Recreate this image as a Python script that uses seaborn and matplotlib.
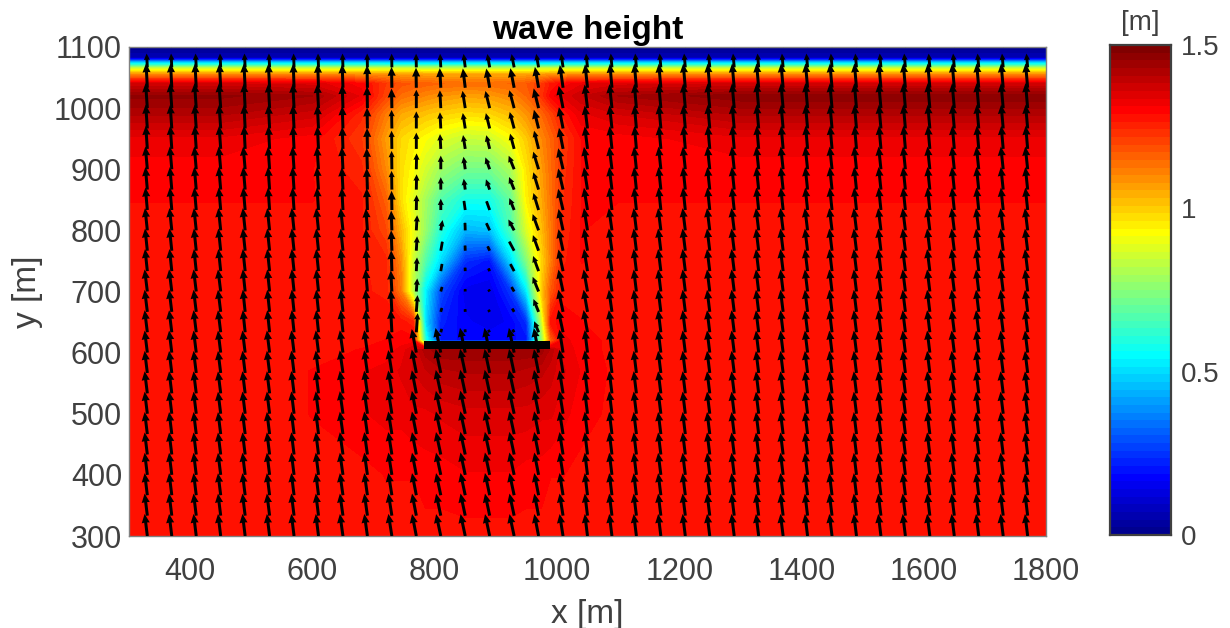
import numpy as np
import matplotlib
matplotlib.use("Agg")
import matplotlib.pyplot as plt
from matplotlib.colors import BoundaryNorm, LinearSegmentedColormap
import seaborn as sns

sns.set_theme(style="white")
plt.rcParams['font.family'] = ['Liberation Sans', 'DejaVu Sans']

# wave-height field
X_NODES = [300, 450, 600, 680, 720, 745, 765, 785, 810, 850, 890, 925, 950, 975, 990, 1010, 1040, 1100, 1300, 1550, 1800]
Y_NODES = [300, 400, 500, 570, 605, 620, 650, 700, 750, 800, 850, 900, 950, 990, 1020, 1040, 1055, 1065, 1075, 1082, 1100]
H_300 = [1.27,1.27,1.27,1.27,1.28,1.28,1.28,1.28,1.28,1.28,1.28,1.28,1.28,1.28,1.27,1.27,1.27,1.27,1.27,1.27,1.27]
H_400 = [1.27,1.27,1.28,1.28,1.29,1.29,1.29,1.30,1.30,1.31,1.31,1.31,1.30,1.30,1.29,1.29,1.28,1.27,1.27,1.27,1.27]
H_500 = [1.27,1.27,1.29,1.31,1.32,1.32,1.33,1.33,1.34,1.35,1.35,1.35,1.35,1.34,1.34,1.32,1.30,1.28,1.27,1.27,1.27]
H_570 = [1.27,1.27,1.29,1.31,1.32,1.34,1.36,1.38,1.40,1.41,1.41,1.41,1.40,1.39,1.37,1.34,1.31,1.28,1.27,1.27,1.27]
H_605 = [1.27,1.27,1.28,1.29,1.30,1.32,1.36,1.42,1.45,1.45,1.45,1.45,1.45,1.44,1.40,1.33,1.30,1.28,1.27,1.27,1.27]
H_620 = [1.27,1.27,1.27,1.28,1.29,1.30,1.30,0.60,0.20,0.18,0.18,0.18,0.20,0.75,1.15,1.32,1.30,1.28,1.27,1.27,1.27]
H_650 = [1.27,1.27,1.27,1.28,1.28,1.28,1.25,0.50,0.22,0.17,0.15,0.17,0.24,0.85,1.28,1.30,1.29,1.27,1.27,1.27,1.27]
H_700 = [1.27,1.27,1.27,1.27,1.26,1.12,0.82,0.53,0.28,0.15,0.14,0.25,0.52,1.00,1.17,1.28,1.28,1.27,1.27,1.27,1.27]
H_750 = [1.27,1.27,1.27,1.27,1.25,1.09,0.85,0.67,0.50,0.24,0.20,0.50,0.74,0.98,1.11,1.26,1.29,1.28,1.27,1.27,1.27]
H_800 = [1.28,1.28,1.28,1.27,1.20,1.03,0.90,0.77,0.60,0.44,0.46,0.66,0.87,1.02,1.12,1.25,1.29,1.28,1.28,1.28,1.28]
H_850 = [1.29,1.29,1.29,1.27,1.16,0.97,0.88,0.79,0.67,0.58,0.58,0.70,0.94,1.05,1.13,1.24,1.29,1.29,1.29,1.29,1.29]
H_900 = [1.30,1.30,1.29,1.25,1.10,0.97,0.92,0.86,0.78,0.72,0.72,0.80,0.96,1.07,1.14,1.23,1.29,1.29,1.30,1.30,1.30]
H_950 = [1.33,1.33,1.30,1.22,1.07,0.98,0.95,0.92,0.88,0.84,0.85,0.92,1.00,1.10,1.15,1.22,1.29,1.30,1.33,1.33,1.33]
H_990 = [1.41,1.41,1.37,1.25,1.12,1.05,1.03,1.01,0.99,0.97,0.98,1.02,1.08,1.15,1.20,1.27,1.33,1.36,1.41,1.41,1.41]
H_1020 = [1.46,1.46,1.43,1.33,1.20,1.14,1.12,1.10,1.08,1.06,1.07,1.10,1.15,1.23,1.30,1.34,1.38,1.43,1.47,1.47,1.47]
H_1040 = [1.36,1.36,1.35,1.30,1.22,1.18,1.17,1.16,1.15,1.14,1.14,1.15,1.17,1.22,1.27,1.30,1.33,1.35,1.36,1.36,1.36]
H_1055 = [1.09,1.09,1.09,1.09,1.08,1.07,1.07,1.06,1.05,1.05,1.05,1.05,1.06,1.07,1.08,1.09,1.09,1.09,1.09,1.09,1.09]
H_1065 = [0.86,0.86,0.86,0.86,0.85,0.85,0.85,0.84,0.84,0.84,0.84,0.84,0.84,0.85,0.85,0.86,0.86,0.86,0.86,0.86,0.86]
H_1075 = [0.45,0.45,0.45,0.45,0.45,0.45,0.45,0.45,0.45,0.45,0.45,0.45,0.45,0.45,0.45,0.45,0.45,0.45,0.45,0.45,0.45]
H_1082 = [0.08,0.08,0.08,0.08,0.08,0.08,0.08,0.08,0.08,0.08,0.08,0.08,0.08,0.08,0.08,0.08,0.08,0.08,0.08,0.08,0.08]
H_1100 = [0.00,0.00,0.00,0.00,0.00,0.00,0.00,0.00,0.00,0.00,0.00,0.00,0.00,0.00,0.00,0.00,0.00,0.00,0.00,0.00,0.00]
H_ROWS = [H_300, H_400, H_500, H_570, H_605, H_620, H_650, H_700, H_750, H_800, H_850, H_900, H_950,
          H_990, H_1020, H_1040, H_1055, H_1065, H_1075, H_1082, H_1100]

# arrows: positions and lean to the left of vertical (degrees), by band of tail height
ARROW_X = list(range(330, 1771, 40))
ARROW_Y = [300, 333.3, 366.7, 400, 433.3, 466.7, 500, 533.3, 566.7, 600, 633.3, 666.7, 700, 733.3, 766.7,
           800, 833.3, 866.7, 900, 933.3, 966.7, 1000, 1033.3, 1066.7, 1100]
BAND_TOPS = [600, 700, 800, 900, 1000, 1100]
TILT_600 = [7,7,7,7,7,7,7,7,8,8,9,11,12,12,12,12,11,9,7,7,7,7,7,7,7,7,7,7,7,7,7,7,7,7,7,7,7]
TILT_700 = [7,7,7,7,6,6,6,6,6,5,3,-4,-16,3,32,30,22,12,10,8,7,7,7,7,7,7,7,7,7,7,7,7,7,7,7,7,7]
TILT_800 = [6,6,6,6,6,6,6,6,6,4,2,-3,-10,2,25,28,20,12,9,8,7,7,7,7,7,7,7,7,7,7,7,7,7,7,7,7,7]
TILT_900 = [5,5,5,5,5,4,4,4,3,2,1,-1,0,8,20,22,17,13,9,7,6,6,6,6,6,6,6,6,6,6,6,6,6,6,6,6,6]
TILT_1000 = [4,4,4,4,3,3,3,3,2,1,1,0,3,9,14,15,14,11,7,6,5,5,5,5,5,5,5,5,5,5,5,5,5,5,5,5,5]
TILT_1100 = [3,3,3,3,3,3,2,2,2,1,1,1,3,7,10,11,10,8,6,5,5,5,5,5,5,5,5,5,5,5,5,5,5,5,5,5,5]
TILT_ROWS = [TILT_600, TILT_700, TILT_800, TILT_900, TILT_1000, TILT_1100]

# breakwater
BAR_X = [782, 988]
BAR_BOTTOM = 606
BAR_TOP = 619

X_TICKS = [400, 600, 800, 1000, 1200, 1400, 1600, 1800]
Y_TICKS = [300, 400, 500, 600, 700, 800, 900, 1000, 1100]
CB_TICKS = [0, 0.5, 1, 1.5]
CB_LABELS = ['0', '0.5', '1', '1.5']
VMAX = 1.5
N_LEVELS = 64

INK = '#404040'
jet_anchors = [(0, (0, 0, 0.5625)), (0.111, (0, 0, 1)), (0.365, (0, 1, 1)),
               (0.619, (1, 1, 0)), (0.873, (1, 0, 0)), (1, (0.5, 0, 0))]
jet64 = LinearSegmentedColormap.from_list('matlab_jet', jet_anchors, N=N_LEVELS)
levels = np.linspace(0, VMAX, N_LEVELS + 1)
norm = BoundaryNorm(levels, N_LEVELS)

W, H = 1230, 628
fig = plt.figure(figsize=(W / 100, H / 100), dpi=100)
ax = fig.add_axes([129 / W, 1 - 536 / H, 917 / W, 489 / H])
cax = fig.add_axes([1110 / W, 1 - 535 / H, 61 / W, 490 / H])

field = np.array(H_ROWS)
ax.contourf(X_NODES, Y_NODES, field, levels=levels, cmap=jet64, norm=norm, extend='both', antialiased=False)

# quiver: arrow length follows the local height
tx, ty, u, v, m = [], [], [], [], []
for yy in ARROW_Y:
    band = np.searchsorted(BAND_TOPS, yy)
    col = [np.interp(yy, Y_NODES, field[:, j]) for j in range(len(X_NODES))]
    for i, xx in enumerate(ARROW_X):
        mag = np.interp(xx, X_NODES, col)
        a = np.deg2rad(TILT_ROWS[band][i])
        tx.append(xx); ty.append(yy); m.append(mag)
        u.append(-mag * np.sin(a)); v.append(mag * np.cos(a))
tx, ty, u, v, m = map(np.array, (tx, ty, u, v, m))
arrow_groups = [
    (m >= 1.1, 3.0, 2.7, 3.0, 2.9),
    ((m >= 0.6) & (m < 1.1), 2.9, 2.1, 2.2, 2.1),
    (m < 0.6, 2.8, 1.0, 0.1, 0.1),
]
for sel, width, hw, hl, hal in arrow_groups:
    ax.quiver(tx[sel], ty[sel], u[sel], v[sel], angles='uv', scale_units='dots', scale=1 / 17.5,
              units='dots', width=width, headwidth=hw, headlength=hl, headaxislength=hal,
              minshaft=0.5, minlength=0.1, color='black', zorder=3)
ax.fill_between(BAR_X, BAR_BOTTOM, BAR_TOP, color='black', lw=0, zorder=4)

ax.set_xlim(300, 1800)
ax.set_ylim(300, 1100)
ax.set_xticks(X_TICKS)
ax.set_yticks(Y_TICKS)
ax.tick_params(axis='x', labelsize=22, colors=INK, direction='in', length=0, pad=15)
ax.tick_params(axis='y', labelsize=22, colors=INK, direction='in', length=0, pad=5)
ax.set_xlabel('x [m]', fontsize=24, color=INK, labelpad=9)
ax.set_ylabel('y [m]', fontsize=24, color=INK, labelpad=8)
ax.set_title('wave height', fontsize=24, fontweight='bold', color='black', pad=6)
for s in ax.spines.values():
    s.set_color('#808080'); s.set_linewidth(1.0); s.set_visible(True)

# colour bar as a one-column seaborn heatmap of the colour levels
centers = (levels[:-1] + levels[1:]) / 2
sns.heatmap(centers.reshape(-1, 1), ax=cax, cmap=jet64, norm=norm, cbar=False,
            xticklabels=False, yticklabels=False)
cax.set_ylim(0, N_LEVELS)
cax.yaxis.tick_right()
cax.set_yticks([t / VMAX * N_LEVELS for t in CB_TICKS])
cax.set_yticklabels(CB_LABELS, rotation=0)
cax.tick_params(axis='y', labelsize=20, colors=INK, direction='in', length=6, width=1.2, pad=7, right=True, left=False)
for s in cax.spines.values():
    s.set_visible(True); s.set_color('#404040'); s.set_linewidth(1.6)
cax.set_title('[m]', fontsize=20, color=INK, pad=11)

fig.savefig('out.png', dpi=100, facecolor='white')
